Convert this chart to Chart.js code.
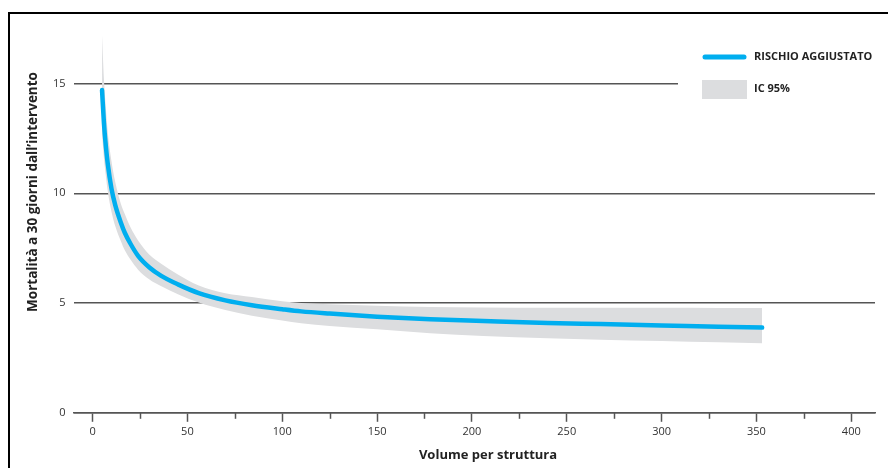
<!DOCTYPE html>
<html>
<head>
<meta charset="utf-8">
<script src="https://cdn.jsdelivr.net/npm/chart.js@4"></script>
<style>
    body { margin: 0; background: #fff; overflow: hidden; }
    #frame {
        position: absolute; left: 8px; top: 12px;
        width: 900px; height: 480px;
        border-left: 2px solid #000; border-top: 2px solid #000;
    }
    #riskChart { display: block; }
</style>
</head>
<body>
<div id="frame"><canvas id="riskChart" width="878" height="454"></canvas></div>
<script>
// volume per struttura
const volume  = [5, 6, 7, 8, 10, 12, 15, 17, 20, 24, 30, 36, 45, 56, 70, 84, 100, 110, 125, 150, 178, 206, 240, 268, 300, 330, 353];
// rischio aggiustato (mortalità a 30 giorni, %)
const rischio = [14.7, 13.2, 12.15, 11.35, 10.2, 9.45, 8.65, 8.2, 7.7, 7.15, 6.62, 6.25, 5.85, 5.45, 5.12, 4.9, 4.72, 4.62, 4.52, 4.38, 4.26, 4.18, 4.09, 4.04, 3.98, 3.92, 3.88];
// IC 95%
const icUpper = [17.2, 15.2, 13.9, 12.8, 11.45, 10.5, 9.5, 9.05, 8.45, 7.85, 7.2, 6.8, 6.3, 5.8, 5.45, 5.28, 5.08, 5.0, 4.95, 4.88, 4.82, 4.8, 4.79, 4.78, 4.78, 4.77, 4.77];
const icLower = [12.7, 11.6, 10.8, 10.1, 9.15, 8.5, 7.8, 7.4, 6.98, 6.52, 6.07, 5.77, 5.4, 5.02, 4.68, 4.42, 4.2, 4.08, 3.95, 3.8, 3.62, 3.5, 3.4, 3.33, 3.27, 3.21, 3.17];

const xTicks = [0, 50, 100, 150, 200, 250, 300, 350, 400];
const xMinorTicks = [25, 75, 125, 175, 225, 275, 325, 375];
const yTicks = [0, 5, 10, 15];

const BLUE = '#00aeef';
const GREY = '#dcdddf';
const AXIS = '#555555';
const FONT = '"Open Sans", "DejaVu Sans", sans-serif';

function points(ys) {
    return volume.map((v, i) => ({ x: v, y: ys[i] }));
}

// short ticks at the 25s
const minorTicks = {
    id: 'minorTicks',
    afterDraw(chart) {
        const ctx = chart.ctx;
        const xs = chart.scales.x;
        ctx.save();
        ctx.strokeStyle = AXIS;
        ctx.lineWidth = 1.5;
        xMinorTicks.forEach(v => {
            const px = Math.round(xs.getPixelForValue(v)) + 0.5;
            ctx.beginPath();
            ctx.moveTo(px, xs.top);
            ctx.lineTo(px, xs.top + 6);
            ctx.stroke();
        });
        ctx.restore();
    }
};

// axis titles
const axisTitles = {
    id: 'axisTitles',
    afterDraw(chart) {
        const ctx = chart.ctx;
        ctx.save();
        ctx.fillStyle = '#222';
        ctx.textAlign = 'center';
        ctx.textBaseline = 'middle';
        ctx.font = 'bold 13px ' + FONT;
        ctx.fillText('Volume per struttura', 478, 441);
        ctx.font = 'bold 13.5px ' + FONT;
        ctx.translate(23, 178);
        ctx.rotate(-Math.PI / 2);
        ctx.fillText('Mortalità a 30 giorni dall\u2019intervento', 0, 0);
        ctx.restore();
    }
};

// legend box in the top right corner
const cornerLegend = {
    id: 'cornerLegend',
    afterDatasetsDraw(chart) {
        const ctx = chart.ctx;
        const ds = chart.data.datasets;
        ctx.save();
        ctx.fillStyle = '#fff';
        ctx.fillRect(668, 26, 210, 70);

        ctx.strokeStyle = ds[2].borderColor;
        ctx.lineWidth = 5;
        ctx.lineCap = 'round';
        ctx.beginPath();
        ctx.moveTo(695, 43);
        ctx.lineTo(734, 43);
        ctx.stroke();

        ctx.fillStyle = ds[0].backgroundColor;
        ctx.fillRect(692, 66, 45, 19);

        ctx.fillStyle = '#222';
        ctx.font = 'bold 11px ' + FONT;
        ctx.textBaseline = 'middle';
        ctx.fillText(ds[2].label, 744, 43);
        ctx.fillText(ds[0].label, 744, 75);
        ctx.restore();
    }
};

document.addEventListener('DOMContentLoaded', function () {
    const ctx = document.getElementById('riskChart').getContext('2d');

    new Chart(ctx, {
        type: 'line',
        data: {
            datasets: [
                {
                    label: 'IC 95%',
                    data: points(icUpper),
                    borderWidth: 0,
                    borderColor: 'rgba(0,0,0,0)',
                    backgroundColor: GREY,
                    fill: '+1',
                    pointRadius: 0,
                    order: 2,
                    cubicInterpolationMode: 'monotone'
                },
                {
                    label: 'IC 95% inf',
                    data: points(icLower),
                    borderWidth: 0,
                    borderColor: 'rgba(0,0,0,0)',
                    backgroundColor: GREY,
                    fill: false,
                    pointRadius: 0,
                    order: 1,
                    cubicInterpolationMode: 'monotone'
                },
                {
                    label: 'RISCHIO AGGIUSTATO',
                    data: points(rischio),
                    borderColor: BLUE,
                    borderWidth: 4.5,
                    borderCapStyle: 'round',
                    fill: false,
                    pointRadius: 0,
                    order: 0,
                    cubicInterpolationMode: 'monotone'
                }
            ]
        },
        options: {
            responsive: false,
            animation: false,
            layout: {
                padding: { left: 35, right: 13, top: 4, bottom: 27 }
            },
            plugins: {
                legend: { display: false },
                tooltip: { enabled: false }
            },
            scales: {
                x: {
                    type: 'linear',
                    min: -10,
                    max: 412.5,
                    afterBuildTicks: axis => {
                        axis.ticks = xTicks.map(v => ({ value: v }));
                    },
                    grid: {
                        drawOnChartArea: false,
                        drawTicks: true,
                        tickLength: 9,
                        tickColor: AXIS,
                        tickWidth: 1.5
                    },
                    border: { color: AXIS, width: 1.5 },
                    ticks: {
                        padding: 3,
                        color: '#333',
                        font: { family: FONT, size: 11 }
                    }
                },
                y: {
                    min: 0,
                    max: 17.5,
                    afterBuildTicks: axis => {
                        axis.ticks = yTicks.map(v => ({ value: v }));
                    },
                    grid: {
                        drawTicks: false,
                        color: AXIS,
                        lineWidth: 1.5
                    },
                    border: { display: false },
                    ticks: {
                        padding: 8,
                        color: '#333',
                        font: { family: FONT, size: 11 }
                    }
                }
            }
        },
        plugins: [minorTicks, axisTitles, cornerLegend]
    });
});
</script>
</body>
</html>
